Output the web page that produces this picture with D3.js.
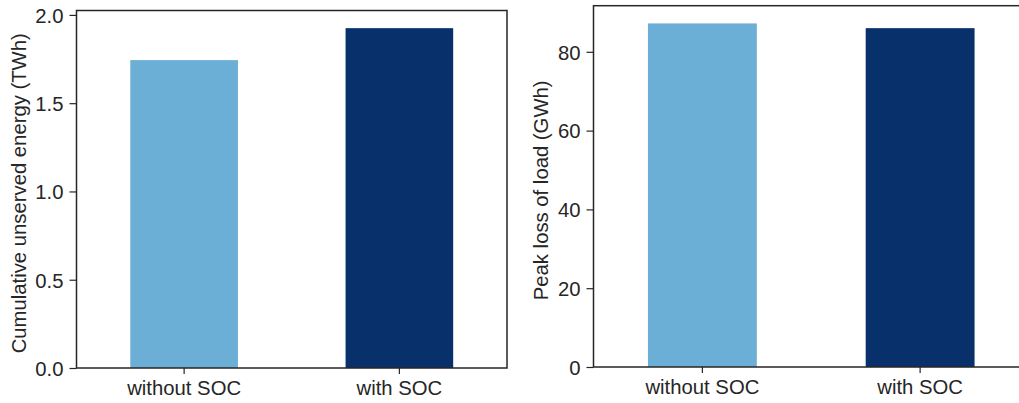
<!DOCTYPE html>
<html>
<head>
<meta charset="utf-8">
<script src="https://cdn.jsdelivr.net/npm/d3@7"></script>
<style>
  body { margin: 0; background: #fff; }
  svg { display: block; font-family: "Liberation Sans", Arial, sans-serif; }
</style>
</head>
<body>
<svg id="app" width="1019" height="403"></svg>
<script>
const categories = ["without SOC", "with SOC"];
const barColors = ["#6baed6", "#08306b"];

const unservedEnergy = [1.744, 1.925];     // TWh
const unservedTicks = [0, 0.5, 1.0, 1.5, 2.0];

const peakLoss = [87.2, 86.0];            // GWh
const peakTicks = [0, 20, 40, 60, 80];

const panels = [
  {
    values: unservedEnergy, ticks: unservedTicks, fmt: d3.format(".1f"),
    ymax: 2.025, label: "Cumulative unserved energy (TWh)",
    left: 76.5, right: 507, top: 10.5, bottom: 368, labelX: 18.5
  },
  {
    values: peakLoss, ticks: peakTicks, fmt: d3.format("d"),
    ymax: 91.7, label: "Peak loss of load (GWh)",
    left: 593.5, right: 1029, top: 5.7, bottom: 367, labelX: 541
  }
];

const ink = "#262626";
const fontSize = "20.3px";
const svg = d3.select("#app");

panels.forEach(function (p) {
  const g = svg.append("g");

  // pandas-style band: xlim (-0.5, n-0.5), bar width 0.5
  const x = d3.scaleBand()
    .domain(categories)
    .range([p.left, p.right])
    .paddingInner(0.5)
    .paddingOuter(0.25);
  const y = d3.scaleLinear().domain([0, p.ymax]).range([p.bottom, p.top]);

  g.selectAll("rect.bar")
    .data(p.values)
    .enter()
    .append("rect")
    .attr("class", "bar")
    .attr("x", function (d, i) { return x(categories[i]); })
    .attr("width", x.bandwidth())
    .attr("y", function (d) { return y(d); })
    .attr("height", function (d) { return y(0) - y(d); })
    .attr("fill", function (d, i) { return barColors[i]; });

  // frame
  g.append("rect")
    .attr("x", p.left).attr("y", p.top)
    .attr("width", p.right - p.left).attr("height", p.bottom - p.top)
    .attr("fill", "none").attr("stroke", ink).attr("stroke-width", 1.5);

  const yAxis = g.append("g")
    .attr("transform", `translate(${p.left},0)`)
    .call(d3.axisLeft(y).tickValues(p.ticks).tickFormat(p.fmt).tickSize(7).tickPadding(6));
  const xAxis = g.append("g")
    .attr("transform", `translate(0,${p.bottom})`)
    .call(d3.axisBottom(x).tickSize(6).tickPadding(6));

  [yAxis, xAxis].forEach(function (a) {
    a.select(".domain").remove();
    a.selectAll("line").attr("stroke", ink).attr("stroke-width", 1.2);
    a.selectAll("text")
      .attr("fill", ink)
      .style("font-size", fontSize)
      .style("font-family", "'Liberation Sans', Arial, sans-serif");
  });
  yAxis.selectAll("text").attr("dy", "0.36em");
  xAxis.selectAll("text").attr("dy", "0.72em");

  g.append("text")
    .attr("transform", `translate(${p.labelX},${(p.top + p.bottom) / 2 + 4}) rotate(-90)`)
    .attr("text-anchor", "middle")
    .attr("dy", "0.36em")
    .attr("fill", ink)
    .style("font-size", fontSize)
    .text(p.label);
});
</script>
</body>
</html>
